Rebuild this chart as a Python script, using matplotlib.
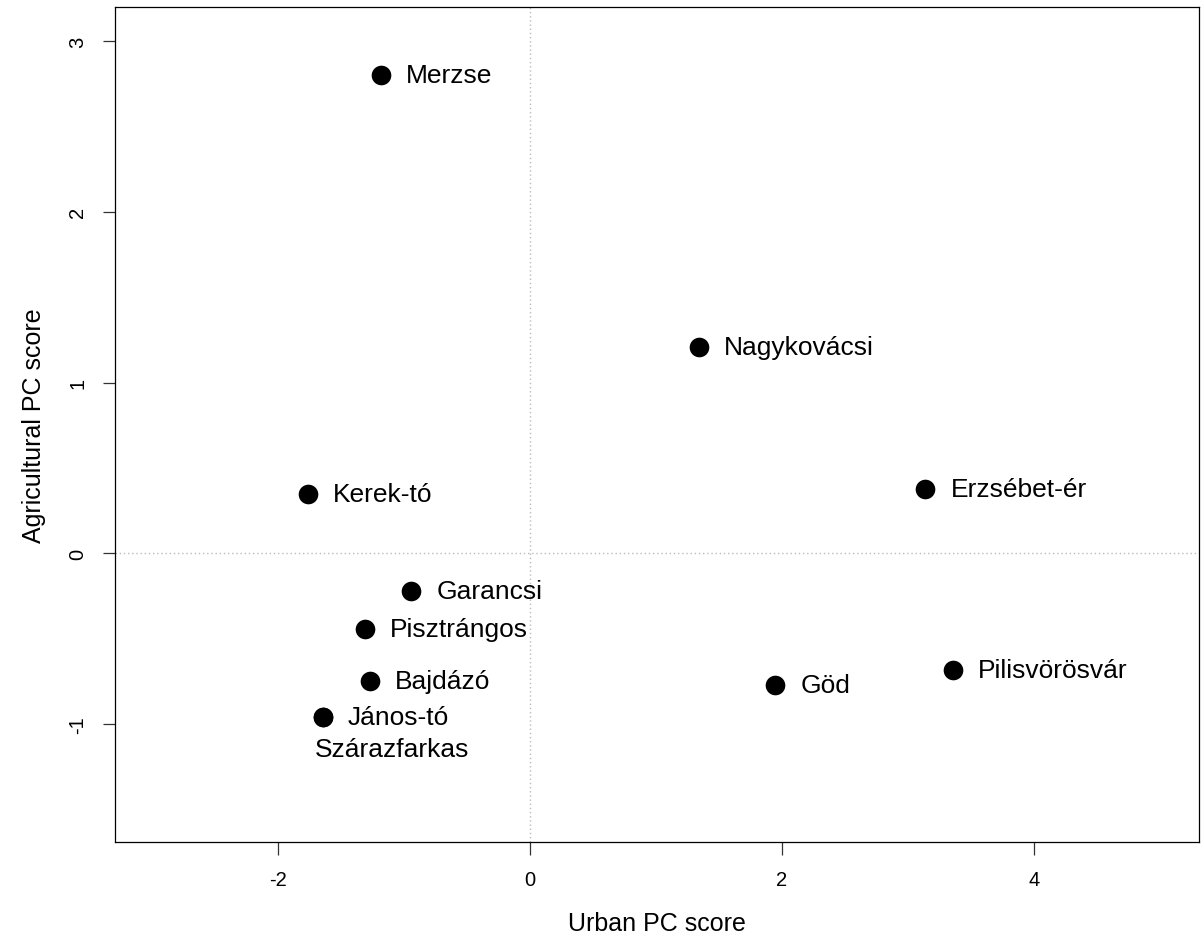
import matplotlib
matplotlib.use("Agg")
import matplotlib.pyplot as plt

plt.rcParams['font.family'] = ['Liberation Sans', 'DejaVu Sans']

# site scores
sites = ['Merzse', 'Nagykovácsi', 'Kerek-tó', 'Erzsébet-ér', 'Garancsi', 'Pisztrángos',
         'Bajdázó', 'János-tó', 'Göd', 'Pilisvörösvár', 'Szárazfarkas']
urban = [-1.18, 1.34, -1.76, 3.14, -0.94, -1.31, -1.27, -1.64, 1.95, 3.36, -1.64]
agri = [2.80, 1.21, 0.35, 0.38, -0.22, -0.44, -0.75, -0.96, -0.77, -0.68, -0.96]
x_ticks = [-2, 0, 2, 4]
y_ticks = [-1, 0, 1, 2, 3]

fig = plt.figure(figsize=(12.01, 9.45), dpi=100)
ax = fig.add_axes([115/1201, 102/945, 1084/1201, 835/945])

ax.axvline(0, color='#bbbbbb', linestyle=(0, (1, 2)), linewidth=1, zorder=1)
ax.axhline(0, color='#bbbbbb', linestyle=(0, (1, 2)), linewidth=1, zorder=1)
ax.scatter(urban, agri, s=200, color='black', linewidths=0, zorder=3)

for name, x, y in zip(sites, urban, agri):
    off = (-6, -23) if name == 'Szárazfarkas' else (18, 0)
    ax.annotate(name, (x, y), xytext=off, textcoords='offset points',
                ha='left', va='center', fontsize=19)

ax.set_xlim(-3.29, 5.31)
ax.set_ylim(-1.69, 3.2)
ax.set_xticks(x_ticks)
ax.set_xticklabels([str(t) for t in x_ticks])
ax.set_yticks(y_ticks)
ax.set_yticklabels([str(t) for t in y_ticks], rotation=90, va='center')
ax.tick_params(length=9, width=0.9, labelsize=14.5, pad=11, color='#333333')
for sp in ax.spines.values():
    sp.set_linewidth(0.9)
ax.set_xlabel('Urban PC score', fontsize=18, labelpad=16)
ax.set_ylabel('Agricultural PC score', fontsize=18, labelpad=16)

fig.savefig('out.png', dpi=100)
